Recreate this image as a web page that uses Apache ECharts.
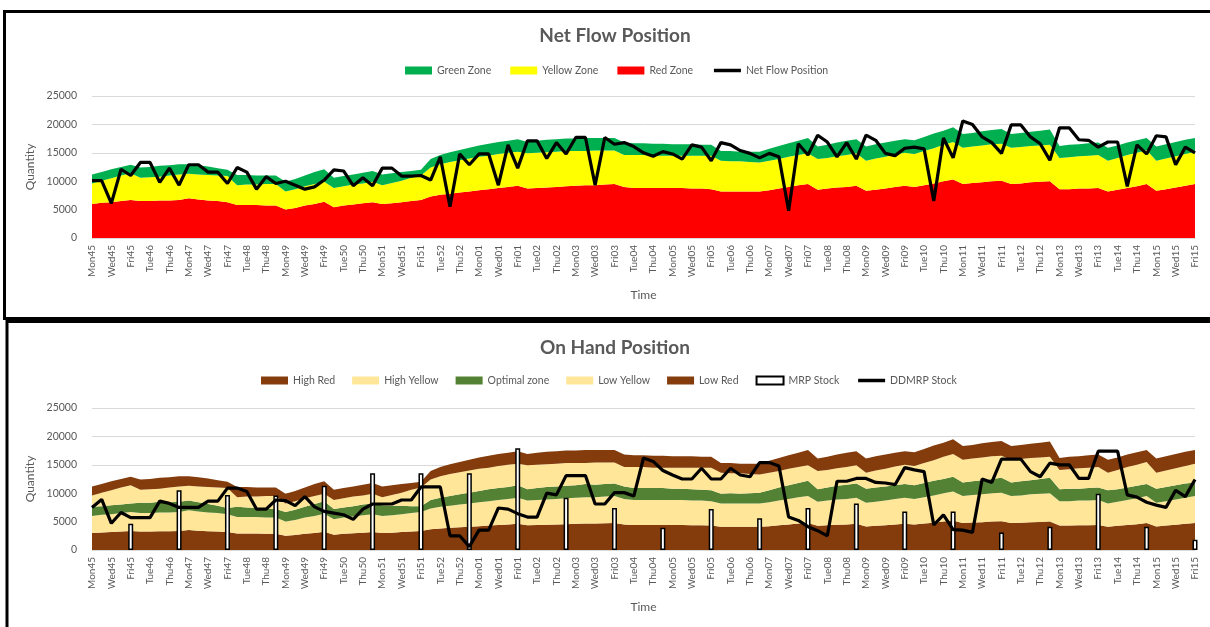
<!DOCTYPE html>
<html>
<head>
<meta charset="utf-8">
<script src="https://cdn.jsdelivr.net/npm/echarts@6/dist/echarts.min.js"></script>
<style>
  html, body { margin: 0; padding: 0; background: #ffffff; }
  #chart { width: 1210px; height: 627px; }
</style>
</head>
<body>
<div id="chart"></div>
<script>
// Working days, week by week
const categories = [
  'Mon45','Tue45','Wed45','Thu45','Fri45',
  'Mon46','Tue46','Wed46','Thu46','Fri46',
  'Mon47','Tue47','Wed47','Thu47','Fri47',
  'Mon48','Tue48','Wed48','Thu48','Fri48',
  'Mon49','Tue49','Wed49','Thu49','Fri49',
  'Mon50','Tue50','Wed50','Thu50','Fri50',
  'Mon51','Tue51','Wed51','Thu51','Fri51',
  'Mon52','Tue52','Wed52','Thu52','Fri52',
  'Mon01','Tue01','Wed01','Thu01','Fri01',
  'Mon02','Tue02','Wed02','Thu02','Fri02',
  'Mon03','Tue03','Wed03','Thu03','Fri03',
  'Mon04','Tue04','Wed04','Thu04','Fri04',
  'Mon05','Tue05','Wed05','Thu05','Fri05',
  'Mon06','Tue06','Wed06','Thu06','Fri06',
  'Mon07','Tue07','Wed07','Thu07','Fri07',
  'Mon08','Tue08','Wed08','Thu08','Fri08',
  'Mon09','Tue09','Wed09','Thu09','Fri09',
  'Mon10','Tue10','Wed10','Thu10','Fri10',
  'Mon11','Tue11','Wed11','Thu11','Fri11',
  'Mon12','Tue12','Wed12','Thu12','Fri12',
  'Mon13','Tue13','Wed13','Thu13','Fri13',
  'Mon14','Tue14','Wed14','Thu14','Fri14',
  'Mon15','Tue15','Wed15','Thu15','Fri15'
];

const yTicks = [0, 5000, 10000, 15000, 20000, 25000];

// ---- Net flow buffer zones (stacked thickness) ----
const redZone = [
  6000,6200,6300,6500,6700, 6500,6500,6600,6600,6700, 7000,6800,6600,6500,6300,
  5800,5800,5800,5700,5700, 5000,5300,5700,6000,6400, 5400,5700,5900,6100,6300,
  6000,6100,6300,6500,6700, 7300,7600,7800,8000,8200, 8400,8600,8800,9000,9200,
  8700,8800,8900,9000,9100, 9200,9300,9300,9400,9500, 9000,8800,8800,8800,8800,
  8800,8800,8700,8700,8600, 8200,8200,8200,8200,8200, 8400,8700,9000,9300,9500,
  8500,8700,8900,9000,9200, 8300,8500,8700,9000,9200, 9000,9300,9600,10000,10300,
  9500,9700,9800,10000,10100, 9500,9600,9800,9900,10000, 8600,8600,8700,8700,8800,
  8200,8500,8800,9100,9500, 8300,8600,8900,9200,9500
];
const yellowZone = [
  3600,3900,4200,4500,4700, 4100,4200,4200,4400,4500, 4300,4400,4500,4500,4600,
  3500,3600,3600,3800,3800, 3200,3300,3400,3500,3500, 3400,3400,3500,3500,3600,
  3300,3600,3800,4100,4300, 5100,5400,5600,5700,5800, 5900,5900,6000,6000,6000,
  6200,6200,6200,6200,6200, 6100,6000,6100,6000,5900, 5600,5800,5800,5700,5700,
  5700,5700,5800,5800,5900, 5400,5300,5300,5200,5100, 5200,5200,5300,5300,5400,
  5400,5400,5500,5600,5700, 5300,5500,5600,5700,5800, 5800,6000,6200,6400,6600,
  6400,6400,6500,6500,6500, 6400,6400,6400,6400,6400, 5500,5600,5700,5800,5800,
  5400,5600,5800,5900,6000, 5300,5400,5500,5600,5700
];
const greenZone = [
  1600,1500,1600,1500,1500, 1800,1800,1900,1800,1800, 1700,1600,1500,1300,1100,
  1800,1700,1600,1500,1500, 1700,1800,1900,2100,2200, 1800,1800,1800,1900,1900,
  1900,1700,1500,1200,1000, 1500,1600,1700,1800,1900, 2000,2100,2100,2100,2200,
  2000,2100,2200,2200,2200, 2200,2300,2200,2200,2200, 2200,2100,2100,2100,2100,
  2000,2000,2000,1900,1900, 1700,1800,1700,1800,1900, 2100,2300,2400,2500,2700,
  2200,2300,2400,2500,2500, 2500,2500,2500,2400,2400, 2400,2500,2600,2500,2600,
  2400,2400,2500,2500,2600, 2400,2500,2500,2600,2700, 2100,2200,2100,2200,2200,
  2300,2200,2200,2200,2100, 2500,2500,2500,2500,2400
];
const netFlowPosition = [
  10100,10100,6100,12100,11000, 13300,13300,9800,12300,9300, 12900,12900,11600,11600,9600,
  12400,11600,8600,10800,9600, 10000,9300,8600,9000,10200, 12000,11800,9200,10600,9200,
  12300,12300,10900,10900,11000, 10200,14300,5500,14800,12900, 14800,14800,9300,16400,12300,
  17100,17100,14000,16800,14800, 17700,17700,9300,17700,16500, 16800,16100,15000,14400,15200,
  14800,13900,16400,16000,13600, 16800,16400,15400,14900,14100, 14900,14300,4800,16600,14600,
  18100,16900,14300,16800,13900, 18100,17200,14900,14500,15800, 16000,15700,6500,17600,14100,
  20600,20000,17800,16800,14900, 19900,19900,17800,16600,13700, 19400,19400,17300,17200,16000,
  16900,16900,9100,16400,14800, 18000,17800,12900,16000,15000
];

// ---- On hand zones (stacked thickness, bottom to top) ----
const lowRed = [
  3000,3100,3150,3250,3350, 3250,3250,3300,3300,3350, 3500,3400,3300,3250,3150,
  2900,2900,2900,2850,2850, 2500,2650,2850,3000,3200, 2700,2850,2950,3050,3150,
  3000,3050,3150,3250,3350, 3650,3800,3900,4000,4100, 4200,4300,4400,4500,4600,
  4350,4400,4450,4500,4550, 4600,4650,4650,4700,4750, 4500,4400,4400,4400,4400,
  4400,4400,4350,4350,4300, 4100,4100,4100,4100,4100, 4200,4350,4500,4650,4750,
  4250,4350,4450,4500,4600, 4150,4250,4350,4500,4600, 4500,4650,4800,5000,5150,
  4750,4850,4900,5000,5050, 4750,4800,4900,4950,5000, 4300,4300,4350,4350,4400,
  4100,4250,4400,4550,4750, 4150,4300,4450,4600,4750
];
const lowYellow = [
  3000,3100,3150,3250,3350, 3250,3250,3300,3300,3350, 3500,3400,3300,3250,3150,
  2900,2900,2900,2850,2850, 2500,2650,2850,3000,3200, 2700,2850,2950,3050,3150,
  3000,3050,3150,3250,3350, 3650,3800,3900,4000,4100, 4200,4300,4400,4500,4600,
  4350,4400,4450,4500,4550, 4600,4650,4650,4700,4750, 4500,4400,4400,4400,4400,
  4400,4400,4350,4350,4300, 4100,4100,4100,4100,4100, 4200,4350,4500,4650,4750,
  4250,4350,4450,4500,4600, 4150,4250,4350,4500,4600, 4500,4650,4800,5000,5150,
  4750,4850,4900,5000,5050, 4750,4800,4900,4950,5000, 4300,4300,4350,4350,4400,
  4100,4250,4400,4550,4750, 4150,4300,4450,4600,4750
];
const optimalZone = [
  1600,1500,1600,1500,1500, 1800,1800,1900,1800,1800, 1700,1600,1500,1300,1100,
  1800,1700,1600,1500,1500, 1700,1800,1900,2100,2200, 1800,1800,1800,1900,1900,
  1900,1700,1500,1200,1000, 1500,1600,1700,1800,1900, 2000,2100,2100,2100,2200,
  2000,2100,2200,2200,2200, 2200,2300,2200,2200,2200, 2200,2100,2100,2100,2100,
  2000,2000,2000,1900,1900, 1700,1800,1700,1800,1900, 2100,2300,2400,2500,2700,
  2200,2300,2400,2500,2500, 2500,2500,2500,2400,2400, 2400,2500,2600,2500,2600,
  2400,2400,2500,2500,2600, 2400,2500,2500,2600,2700, 2100,2200,2100,2200,2200,
  2300,2200,2200,2200,2100, 2500,2500,2500,2500,2400
];
const highYellow = [
  2000,2400,2600,3000,3200, 2300,2400,2300,2600,2700, 2600,2800,3000,3200,3500,
  1700,1900,2000,2300,2300, 1500,1500,1500,1400,1300, 1600,1600,1700,1600,1700,
  1400,1900,2300,2900,3300, 3600,3800,3900,3900,3900, 3900,3800,3900,3900,3800,
  4200,4100,4000,4000,4000, 3900,3700,3900,3800,3700, 3400,3700,3700,3600,3600,
  3700,3700,3800,3900,4000, 3700,3500,3600,3400,3200, 3100,2900,2900,2800,2700,
  3200,3100,3100,3100,3200, 2800,3000,3100,3300,3400, 3400,3500,3600,3900,4000,
  4000,4000,4000,4000,3900, 4000,3900,3900,3800,3700, 3400,3400,3600,3600,3600,
  3100,3400,3600,3700,3900, 2800,2900,3000,3100,3300
];
const highRed = [
  1600,1500,1600,1500,1500, 1800,1800,1900,1800,1800, 1700,1600,1500,1300,1100,
  1800,1700,1600,1500,1500, 1700,1800,1900,2100,2200, 1800,1800,1800,1900,1900,
  1900,1700,1500,1200,1000, 1500,1600,1700,1800,1900, 2000,2100,2100,2100,2200,
  2000,2100,2200,2200,2200, 2200,2300,2200,2200,2200, 2200,2100,2100,2100,2100,
  2000,2000,2000,1900,1900, 1700,1800,1700,1800,1900, 2100,2300,2400,2500,2700,
  2200,2300,2400,2500,2500, 2500,2500,2500,2400,2400, 2400,2500,2600,2500,2600,
  2400,2400,2500,2500,2600, 2400,2500,2500,2600,2700, 2100,2200,2100,2200,2200,
  2300,2200,2200,2200,2100, 2500,2500,2500,2500,2400
];

// MRP stock is only booked on Fridays
const mrpDays  = ['Fri45','Fri46','Fri47','Fri48','Fri49','Fri50','Fri51','Fri52','Fri01','Fri02','Fri03','Fri04',
                  'Fri05','Fri06','Fri07','Fri08','Fri09','Fri10','Fri11','Fri12','Fri13','Fri14','Fri15'];
const mrpStock = [4600, 10500, 9700, 9600, 11300, 13500, 13500, 13500, 17900, 9200, 7400, 3900,
                  7200, 5600, 7400, 8200, 6800, 6800, 3100, 4100, 9900, 4100, 1800];

const ddmrpStock = [
  7500,8900,4700,6600,5700, 5700,5700,8600,8200,7500, 7500,7500,8600,8600,10900,
  10900,10300,7200,7200,8800, 8700,7800,9400,7600,6800, 6500,6200,5400,7200,8100,
  8100,8100,8800,8800,11100, 11100,11100,2500,2500,600, 3500,3500,7400,7200,6400,
  5800,5800,10000,9700,13100, 13100,13100,8100,8100,10100, 10100,9500,16200,15600,14000,
  13200,12500,12500,14400,12500, 12500,14400,13200,12900,15400, 15400,14800,5800,5200,4100,
  3400,2500,12100,12100,12600, 12600,11900,11800,11500,14500, 14100,13800,4400,6200,3600,
  3500,3100,12500,11900,16000, 16000,16000,13800,12900,15300, 15000,15000,12600,12600,17400,
  17400,17400,9700,9300,8400, 7900,7500,10500,9400,12400
];

const FONT = 'Lato, "Noto Sans", sans-serif';
const TXT = '#595959';
const GRIDLINE = '#d9d9d9';

const mrpByDay = {};
mrpDays.forEach((d, k) => { mrpByDay[d] = mrpStock[k]; });
const mrpSeriesData = categories.map(c => (c in mrpByDay ? mrpByDay[c] : '-'));

function categoryAxis(gridIndex) {
  return {
    type: 'category', gridIndex, data: categories, boundaryGap: false,
    axisLine: { lineStyle: { color: GRIDLINE, width: 1 } },
    axisTick: { show: false },
    axisLabel: { interval: 1, rotate: 90, color: TXT, fontFamily: FONT, fontSize: 10, margin: 7 },
    name: 'Time', nameLocation: 'middle', nameGap: 51,
    nameTextStyle: { color: TXT, fontFamily: FONT, fontSize: 12 }
  };
}
function valueAxis(gridIndex) {
  return {
    type: 'value', gridIndex, min: yTicks[0], max: yTicks[yTicks.length - 1], interval: yTicks[1] - yTicks[0],
    axisLine: { show: false }, axisTick: { show: false },
    splitLine: { lineStyle: { color: GRIDLINE, width: 1 } },
    axisLabel: { color: TXT, fontFamily: FONT, fontSize: 10.5, margin: 15, formatter: v => String(v) },
    name: 'Quantity', nameLocation: 'middle', nameGap: 47, nameRotate: 90,
    nameTextStyle: { color: TXT, fontFamily: FONT, fontSize: 12 }
  };
}
function zone(name, data, color, stack, axis) {
  return {
    name, type: 'line', data, stack, xAxisIndex: axis, yAxisIndex: axis,
    symbol: 'none', silent: true, lineStyle: { width: 0 },
    itemStyle: { color }, areaStyle: { color, opacity: 1 }
  };
}
const legendText = { color: TXT, fontFamily: FONT, fontSize: 10.5 };
const lineIcon = { itemStyle: { opacity: 0 }, lineStyle: { width: 3.5, color: '#000000' } };

const chart = echarts.init(document.getElementById('chart'), null, { renderer: 'canvas' });
chart.setOption({
  animation: false,
  backgroundColor: '#ffffff',
  textStyle: { fontFamily: FONT },
  title: [
    { text: 'Net Flow Position', left: 610, textAlign: 'center', top: 21,
      textStyle: { color: TXT, fontFamily: FONT, fontSize: 19, fontWeight: 'bold' } },
    { text: 'On Hand Position', left: 610, textAlign: 'center', top: 333,
      textStyle: { color: TXT, fontFamily: FONT, fontSize: 19, fontWeight: 'bold' } }
  ],
  legend: [
    { left: 400, top: 60, itemWidth: 27, itemHeight: 8, itemGap: 19, textStyle: legendText,
      data: [
        { name: 'Green Zone', icon: 'rect' },
        { name: 'Yellow Zone', icon: 'rect' },
        { name: 'Red Zone', icon: 'rect' },
        Object.assign({ name: 'Net Flow Position' }, lineIcon)
      ] },
    { left: 256, top: 370, itemWidth: 27, itemHeight: 8, itemGap: 17, textStyle: legendText,
      data: [
        { name: 'High Red', icon: 'rect' },
        { name: 'High Yellow', icon: 'rect' },
        { name: 'Optimal zone', icon: 'rect' },
        { name: 'Low Yellow', icon: 'rect' },
        { name: 'Low Red', icon: 'rect' },
        { name: 'MRP Stock', icon: 'rect', itemStyle: { color: '#ffffff', borderColor: '#000000', borderWidth: 2 } },
        Object.assign({ name: 'DDMRP Stock' }, lineIcon)
      ] }
  ],
  grid: [
    { left: 92, right: 15, top: 96, height: 142 },
    { left: 92, right: 15, top: 408, height: 142 }
  ],
  xAxis: [categoryAxis(0), categoryAxis(1)],
  yAxis: [valueAxis(0), valueAxis(1)],
  series: [
    zone('Red Zone', redZone, '#FF0000', 'nfp', 0),
    zone('Yellow Zone', yellowZone, '#FFFF00', 'nfp', 0),
    zone('Green Zone', greenZone, '#00B050', 'nfp', 0),
    { name: 'Net Flow Position', type: 'line', data: netFlowPosition, xAxisIndex: 0, yAxisIndex: 0,
      symbol: 'none', silent: true, z: 4, lineStyle: { color: '#000000', width: 3.2 }, itemStyle: { color: '#000000' } },

    zone('Low Red', lowRed, '#843C0C', 'onhand', 1),
    zone('Low Yellow', lowYellow, '#FFE699', 'onhand', 1),
    zone('Optimal zone', optimalZone, '#548235', 'onhand', 1),
    zone('High Yellow', highYellow, '#FFE699', 'onhand', 1),
    zone('High Red', highRed, '#843C0C', 'onhand', 1),
    { name: 'MRP Stock', type: 'bar', data: mrpSeriesData, xAxisIndex: 1, yAxisIndex: 1, barWidth: 5, z: 3,
      silent: true, itemStyle: { color: '#ffffff', borderColor: '#000000', borderWidth: 1.5 } },
    { name: 'DDMRP Stock', type: 'line', data: ddmrpStock, xAxisIndex: 1, yAxisIndex: 1,
      symbol: 'none', silent: true, z: 4, lineStyle: { color: '#000000', width: 3.2 }, itemStyle: { color: '#000000' } }
  ],
  graphic: [
    { type: 'rect', silent: true, shape: { x: 4.5, y: 11.5, width: 1215, height: 307 },
      style: { fill: 'none', stroke: '#000000', lineWidth: 3 } },
    { type: 'rect', silent: true, shape: { x: 7, y: 321.5, width: 1215, height: 320 },
      style: { fill: 'none', stroke: '#000000', lineWidth: 3 } }
  ]
});
</script>
</body>
</html>
